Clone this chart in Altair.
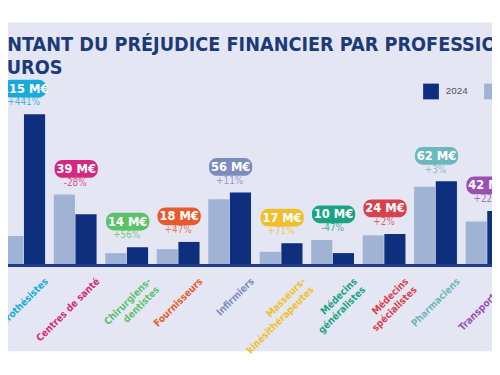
import altair as alt
import pandas as pd

categories = ["Audioprothésistes", "Centres de santé", "Chirurgiens-dentistes",
              "Fournisseurs", "Infirmiers", "Masseurs-kinésithérapeutes",
              "Médecins généralistes", "Médecins spécialistes", "Pharmaciens",
              "Transporteurs"]
axis_labels = ["Audioprothésistes", "Centres de santé", "Chirurgiens-\ndentistes",
               "Fournisseurs", "Infirmiers", "Masseurs-\nkinésithérapeutes",
               "Médecins\ngénéralistes", "Médecins\nspécialistes", "Pharmaciens",
               "Transporteurs"]
values_2023 = [22.5, 54, 9.5, 12.5, 50.5, 10.5, 19.5, 23, 60, 33.5]
values_2024 = [115, 39, 14, 18, 55.5, 17, 9.5, 24, 64, 41.5]
badge_labels = ["115 M€", "39 M€", "14 M€", "18 M€", "56 M€", "17 M€",
                "10 M€", "24 M€", "62 M€", "42 M€"]
change_labels = ["+441%", "-28%", "+56%", "+47%", "+11%", "+71%",
                 "-47%", "+2%", "+3%", "+22%"]
title_lines = ["MONTANT DU PRÉJUDICE FINANCIER PAR PROFESSION EN MILLIONS",
               "D'EUROS"]

cat_colors = ["#19a9db", "#d6287e", "#5dc16a", "#e85a2c", "#7d8cbf",
              "#f0c02c", "#1aa382", "#d9414f", "#6cb8bf", "#9a4fb4"]
NAVY = "#0e2f7e"
LIGHT = "#a0b3d5"
BG = "#e4e7f3"
FONT = "Liberation Sans Narrow, DejaVu Sans Condensed, Roboto, sans-serif"

n = len(categories)
tops = [max(a, b) for a, b in zip(values_2023, values_2024)]
df = pd.DataFrame({
    "category": categories * 2,
    "year": ["2023"] * n + ["2024"] * n,
    "value": values_2023 + values_2024,
    "zero": [0] * (2 * n),
    "label": axis_labels * 2,
    "top": tops * 2,
    "badge": badge_labels * 2,
    "change": change_labels * 2,
    "t1": [title_lines[0]] * (2 * n),
    "t2": [title_lines[1]] * (2 * n),
})

YMAX = 184.6
PX = 247 / YMAX
xscale = alt.Scale(domain=categories, range=[-10.19, 513.1],
                   paddingInner=0.16, paddingOuter=0.08)
yscale = alt.Scale(domain=[0, YMAX], range=[247, 0])
X = alt.X("category:N", sort=categories, scale=xscale, axis=None)
Y = alt.Y("value:Q", scale=yscale, axis=None)
YT = alt.Y("top:Q", scale=yscale, axis=None)
color = alt.Color("year:N", scale=alt.Scale(domain=["2024", "2023"], range=[NAVY, LIGHT]),
                  legend=alt.Legend(title=None, orient="none", legendX=422, legendY=62,
                                    direction="horizontal", symbolType="square",
                                    symbolSize=256, symbolStrokeWidth=0,
                                    labelFontSize=10, labelColor="#4a5470",
                                    labelOffset=7, columnPadding=16, padding=0))
CATFILL = alt.Fill("category:N", scale=alt.Scale(domain=categories, range=cat_colors),
                   legend=None)

base = alt.Chart(df)
ann = base.transform_filter(alt.datum.year == "2024")

bar23 = base.transform_filter(alt.datum.year == "2023").mark_bar(
    width=21.5, xOffset=-11).encode(x=X, y=Y, color=color)
bar24 = ann.mark_bar(width=21.5, xOffset=11).encode(x=X, y=Y, color=color)

rule = ann.mark_rule(color="#1f3d8a", strokeWidth=2).encode(
    x=alt.value(0), x2=alt.value(492), y=alt.Y("zero:Q", scale=yscale, axis=None))

badge = ann.transform_calculate(
    b1=f"datum.top + {17 / PX}", b2=f"datum.top + {35 / PX}"
).mark_rect(cornerRadius=8, xOffset=1).encode(
    x=X, y=alt.Y("b1:Q", scale=yscale, axis=None), y2="b2:Q", fill=CATFILL,
)
badge_text = ann.mark_text(font=FONT, fontSize=13, fontWeight="bold",
                           color="white", dy=-26, dx=1, baseline="middle").encode(
    x=X, y=YT, text="badge:N",
)
pct_text = ann.mark_text(font=FONT, fontSize=10, dy=-12, baseline="middle",
                         opacity=0.8).encode(
    x=X, y=YT, text="change:N", fill=CATFILL,
)
cat_text = ann.mark_text(font=FONT, fontSize=10, fontWeight="bold",
                         angle=315, align="right", baseline="top",
                         dx=14, dy=14, lineBreak="\n", lineHeight=12).encode(
    x=X, y=alt.value(258), text="label:N", fill=CATFILL,
)

first = ann.transform_filter(alt.datum.category == categories[0])
title1 = first.mark_text(font=FONT, fontSize=20, fontWeight="bold", color="#1d3a78",
                         align="left", baseline="alphabetic").encode(
    x=alt.value(-34), y=alt.value(29), text="t1:N")
title2 = first.mark_text(font=FONT, fontSize=20, fontWeight="bold", color="#1d3a78",
                         align="left", baseline="alphabetic").encode(
    x=alt.value(-34), y=alt.value(52), text="t2:N")

chart = alt.layer(bar23, bar24, rule, badge, badge_text, pct_text, cat_text,
                  title1, title2).properties(
    width=492, height=334,
    autosize=alt.AutoSizeParams(type="none"),
    padding={"left": 0, "top": 12, "right": 0, "bottom": 0},
    background="white",
).configure_view(fill=BG, strokeWidth=0)

chart.save("out.html", embed_options={"renderer": "svg", "actions": False})
